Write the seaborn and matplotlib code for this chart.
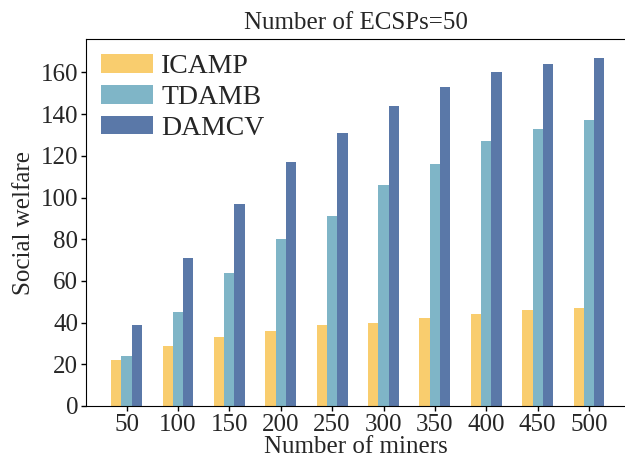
import pandas as pd
import matplotlib
matplotlib.use('Agg')
import matplotlib.pyplot as plt
import seaborn as sns

# values
miners = [50, 100, 150, 200, 250, 300, 350, 400, 450, 500]
icamp = [22, 29, 33, 36, 39, 40, 42, 44, 46, 47]
tdamb = [24, 45, 64, 80, 91, 106, 116, 127, 133, 137]
damcv = [39, 71, 97, 117, 131, 144, 153, 160, 164, 167]
methods = ['ICAMP', 'TDAMB', 'DAMCV']
colors = ['#F9CD6E', '#7FB5C7', '#5A78A8']

data = pd.DataFrame({
    'miners': miners * 3,
    'welfare': icamp + tdamb + damcv,
    'method': [m for m in methods for _ in miners],
})

sns.set_style('ticks')
plt.rcParams['font.family'] = ['Liberation Serif', 'DejaVu Serif']

fig = plt.figure(figsize=(6.25, 4.65), dpi=100)
ax = fig.add_axes([0.1376, 0.1269, 0.8624, 0.789])
sns.barplot(data=data, x='miners', y='welfare', hue='method',
            hue_order=methods, palette=colors, width=0.6,
            saturation=1, linewidth=0, ax=ax)

ax.set_xlim(-0.79, 9.7)
ax.set_ylim(0, 176)
ax.set_yticks(range(0, 161, 20))
ax.set_title('Number of ECSPs=50', fontsize=18, pad=7)
ax.set_xlabel('Number of miners', fontsize=18, labelpad=0)
ax.set_ylabel('Social welfare', fontsize=18, labelpad=4)
ax.tick_params(labelsize=18, length=3.5, width=1, color='black', pad=2)
for s in ax.spines.values():
    s.set_color('black')
ax.spines['right'].set_visible(False)
ax.legend(loc='upper left', fontsize=20, frameon=False,
          handlelength=1.87, handleheight=0.65, handletextpad=0.28,
          labelspacing=0.2, borderaxespad=0.2, borderpad=0.35)

fig.savefig('out.png', dpi=100)
